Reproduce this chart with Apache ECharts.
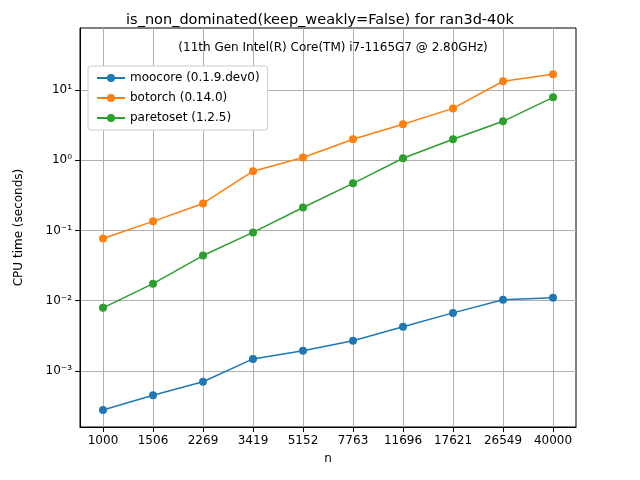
<!DOCTYPE html><html><head><meta charset="utf-8"><script src="https://cdn.jsdelivr.net/npm/echarts@6/dist/echarts.min.js"></script></head><body style="margin:0"><div id="c" style="width:640px;height:480px"></div><script>
const nLabels=['1000','1506','2269','3419','5152','7763','11696','17621','26549','40000'];
const moocore=[2.77e-4,4.5e-4,7.0e-4,1.48e-3,1.93e-3,2.68e-3,4.26e-3,6.7e-3,1.03e-2,1.1e-2];
const botorch=[0.077,0.135,0.243,0.70,1.1,2.0,3.27,5.5,13.4,16.9];
const paretoset=[0.0079,0.0175,0.044,0.094,0.213,0.47,1.07,2.0,3.6,7.9];
const yTicks=[-3,-2,-1,0,1];
const sup={'-':'⁻','0':'⁰','1':'¹','2':'²','3':'³'};
const mk=(name,arr,color)=>({name,type:'line',data:arr.map((v,i)=>[i,Math.log10(v)]),symbol:'circle',symbolSize:8,lineStyle:{width:1.5,color},itemStyle:{color}});
const F='DejaVu Sans';
echarts.init(document.getElementById('c')).setOption({animation:false,textStyle:{fontFamily:F},
title:[{text:'is_non_dominated(keep_weakly=False) for ran3d-40k',left:'center',top:8,textStyle:{fontSize:14.5,fontWeight:'normal',color:'#000',fontFamily:F}},
{text:'(11th Gen Intel(R) Core(TM) i7-1165G7 @ 2.80GHz)',left:328,textAlign:'center',top:37,textStyle:{fontSize:12,fontWeight:'normal',color:'#000',fontFamily:F}}],
legend:{left:88,top:66,orient:'vertical',itemWidth:28,itemHeight:10,itemGap:8,borderColor:'#ccc',borderWidth:1,borderRadius:3,padding:[6,8],backgroundColor:'#fff',textStyle:{fontSize:12,color:'#000'},
data:['moocore (0.1.9.dev0)','botorch (0.14.0)','paretoset (1.2.5)']},
grid:{left:80,right:64,top:28,bottom:53,show:true,borderColor:'#000',borderWidth:1},
xAxis:{type:'value',min:-0.46,max:9.46,name:'n',nameLocation:'middle',nameGap:26,nameTextStyle:{fontSize:12,color:'#000'},
axisLine:{onZero:false,lineStyle:{color:'#000'}},axisTick:{customValues:[0,1,2,3,4,5,6,7,8,9],lineStyle:{color:'#000'}},
axisLabel:{customValues:[0,1,2,3,4,5,6,7,8,9],formatter:v=>nLabels[Math.round(v)],color:'#000',fontSize:12},
splitLine:{show:true,lineStyle:{color:'#b0b0b0'}}},
yAxis:{type:'value',min:-3.8,max:1.886,name:'CPU time (seconds)',nameLocation:'middle',nameGap:55,nameTextStyle:{fontSize:12,color:'#000'},
axisLine:{show:true,onZero:false,lineStyle:{color:'#000'}},axisTick:{show:true,customValues:yTicks,lineStyle:{color:'#000'}},
axisLabel:{customValues:yTicks,formatter:v=>'10'+String(Math.round(v)).split('').map(c=>sup[c]).join(''),color:'#000',fontSize:12},
splitLine:{show:true,lineStyle:{color:'#b0b0b0'}}},
series:[mk('moocore (0.1.9.dev0)',moocore,'#1f77b4'),mk('botorch (0.14.0)',botorch,'#ff7f0e'),mk('paretoset (1.2.5)',paretoset,'#2ca02c')]});
</script></body></html>
